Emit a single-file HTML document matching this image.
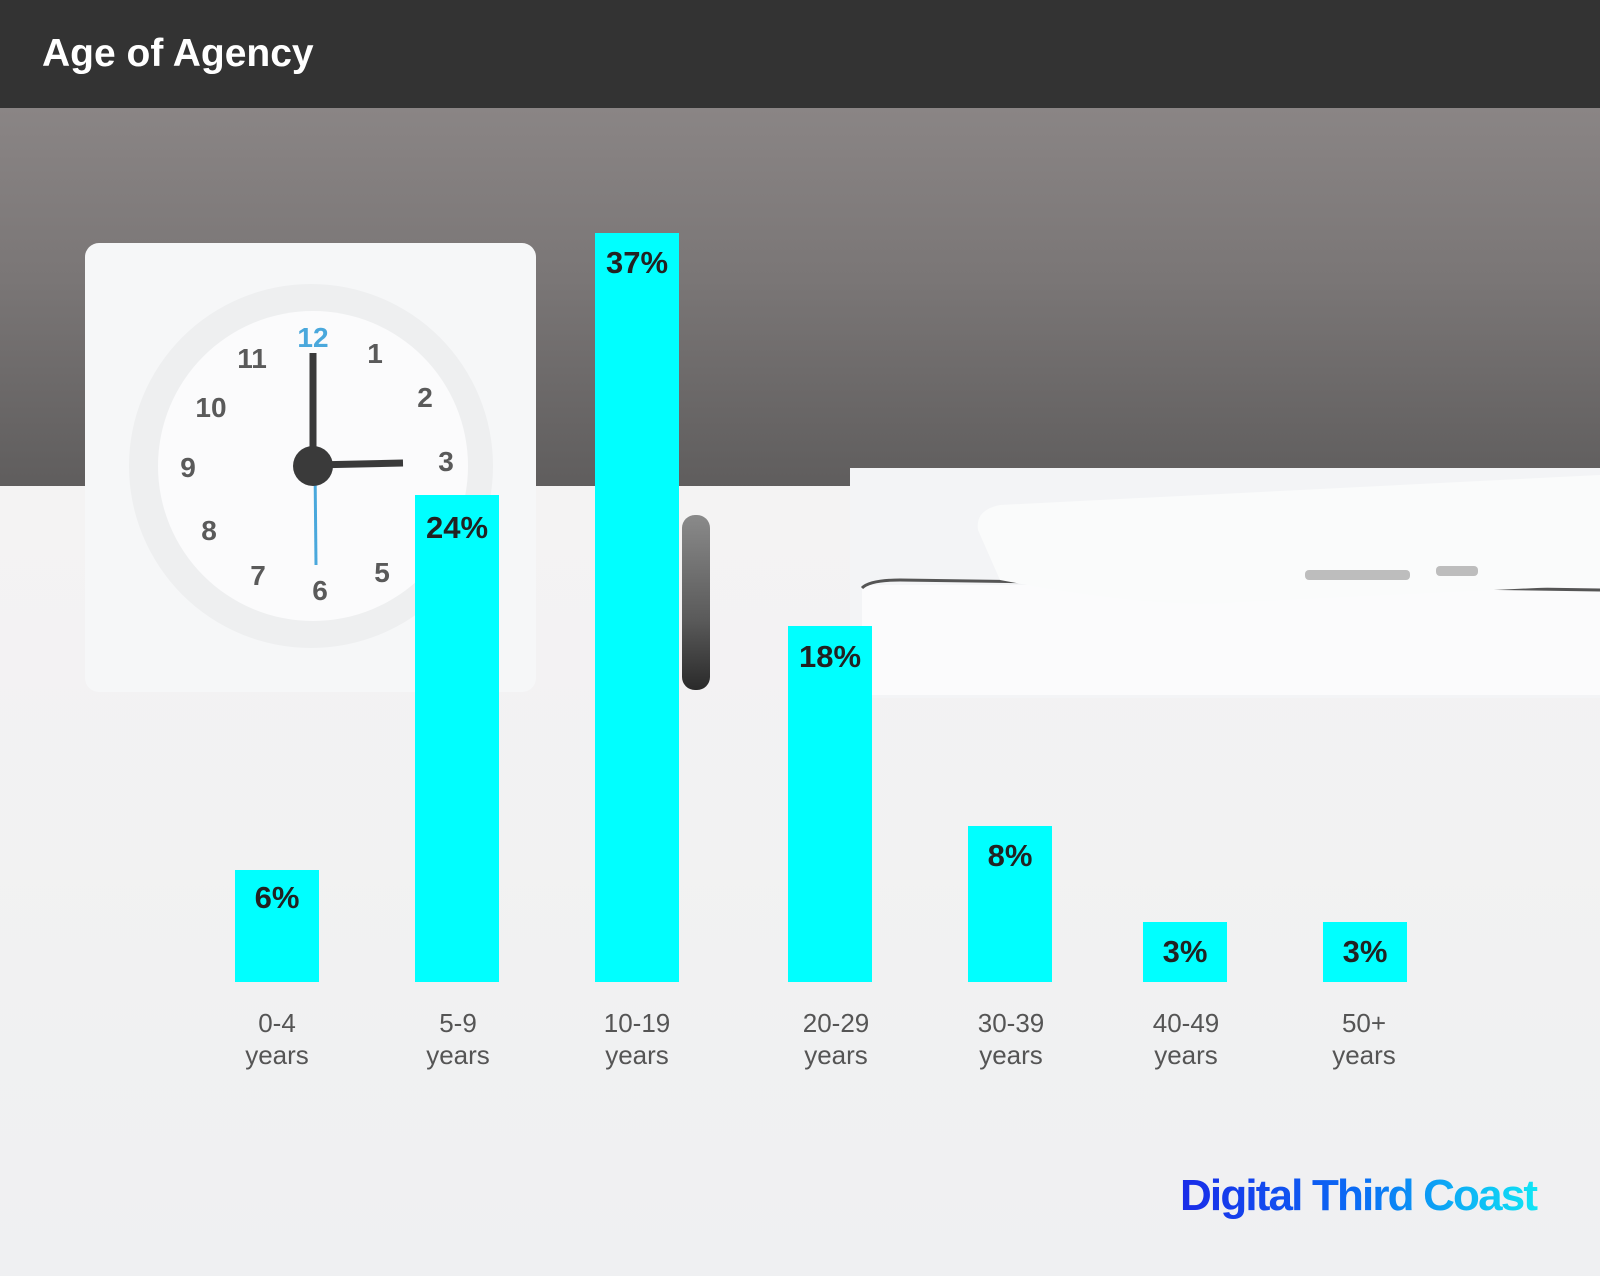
<!DOCTYPE html>
<html><head><style>
html,body{margin:0;padding:0;width:1600px;height:1276px;overflow:hidden;}
body{position:relative;font-family:"Liberation Sans",sans-serif;}
</style></head><body>
<svg width="1600" height="1276" viewBox="0 0 1600 1276" xmlns="http://www.w3.org/2000/svg" style="position:absolute;left:0;top:0">
<defs>
<linearGradient id="wall" x1="0" y1="0" x2="0" y2="1">
<stop offset="0" stop-color="#8a8585"/><stop offset="0.45" stop-color="#7a7676"/><stop offset="1" stop-color="#5f5d5d"/>
</linearGradient>
<linearGradient id="desk" x1="0" y1="0" x2="0" y2="1">
<stop offset="0" stop-color="#f4f3f3"/><stop offset="1" stop-color="#eff0f2"/>
</linearGradient>
<linearGradient id="logo" x1="0" y1="0" x2="1" y2="0">
<stop offset="0" stop-color="#1a2be8"/><stop offset="0.5" stop-color="#0a6cf5"/><stop offset="1" stop-color="#10e6f5"/>
</linearGradient>
<linearGradient id="pen" x1="0" y1="0" x2="0" y2="1">
<stop offset="0" stop-color="#8a8a8a"/><stop offset="0.6" stop-color="#5a5a5a"/><stop offset="1" stop-color="#2a2a2a"/>
</linearGradient>
</defs>
<rect x="0" y="108" width="1600" height="380" fill="url(#wall)"/>
<rect x="0" y="486" width="1600" height="790" fill="url(#desk)"/>
<!-- clock -->
<rect x="85" y="243" width="451" height="449" rx="14" fill="#f6f7f8"/>
<circle cx="311" cy="466" r="182" fill="#eeeff0"/>
<circle cx="313" cy="466" r="155" fill="#fbfbfc"/>
<g font-family="Liberation Sans" font-weight="bold" font-size="28" fill="#5a5a5a" text-anchor="middle">
<text x="313" y="347" fill="#4aa8dc">12</text><text x="375" y="363">1</text><text x="425" y="407">2</text>
<text x="446" y="471">3</text><text x="382" y="582">5</text><text x="320" y="600">6</text>
<text x="258" y="585">7</text><text x="209" y="540">8</text><text x="188" y="477">9</text>
<text x="211" y="417">10</text><text x="252" y="368">11</text>
</g>
<line x1="313" y1="465" x2="313" y2="353" stroke="#3a3a3a" stroke-width="7"/>
<line x1="313" y1="465" x2="403" y2="463" stroke="#3a3a3a" stroke-width="7"/>
<line x1="315" y1="465" x2="316" y2="565" stroke="#4aa8dc" stroke-width="3"/>
<circle cx="313" cy="466" r="20" fill="#3a3a3a"/>
<!-- pen -->
<rect x="682" y="515" width="28" height="175" rx="13" fill="url(#pen)"/>
<!-- notebook -->
<rect x="850" y="468" width="750" height="230" fill="#f3f4f6"/>
<rect x="862" y="585" width="738" height="110" fill="#fbfbfc"/>
<path d="M862 588 Q870 580 900 580 L1600 590" stroke="#555" stroke-width="3" fill="none"/>
<path d="M978 530 Q975 510 1000 505 L1600 475 L1600 585 L1240 602 Q1160 610 1000 580 Z" fill="#fafbfb"/>
<rect x="1305" y="570" width="105" height="10" rx="4" fill="#bdbdbd"/>
<rect x="1436" y="566" width="42" height="10" rx="4" fill="#bdbdbd"/>
<!-- header -->
<rect x="0" y="0" width="1600" height="108" fill="#333333"/>
<text x="42" y="66" font-family="Liberation Sans" font-weight="bold" font-size="39" fill="#fff">Age of Agency</text>
<!-- bars -->
<g fill="#00ffff">
<rect x="235" y="870" width="84" height="112"/>
<rect x="415" y="495" width="84" height="487"/>
<rect x="595" y="233" width="84" height="749"/>
<rect x="788" y="626" width="84" height="356"/>
<rect x="968" y="826" width="84" height="156"/>
<rect x="1143" y="922" width="84" height="60"/>
<rect x="1323" y="922" width="84" height="60"/>
</g>
<g font-family="Liberation Sans" font-weight="bold" font-size="31" fill="#222" text-anchor="middle">
<text x="277" y="908">6%</text>
<text x="457" y="538">24%</text>
<text x="637" y="273">37%</text>
<text x="830" y="667">18%</text>
<text x="1010" y="866">8%</text>
<text x="1185" y="962">3%</text>
<text x="1365" y="962">3%</text>
</g>
<g font-family="Liberation Sans" font-size="26" fill="#555" text-anchor="middle">
<text x="277" y="1032">0-4</text><text x="277" y="1064">years</text>
<text x="458" y="1032">5-9</text><text x="458" y="1064">years</text>
<text x="637" y="1032">10-19</text><text x="637" y="1064">years</text>
<text x="836" y="1032">20-29</text><text x="836" y="1064">years</text>
<text x="1011" y="1032">30-39</text><text x="1011" y="1064">years</text>
<text x="1186" y="1032">40-49</text><text x="1186" y="1064">years</text>
<text x="1364" y="1032">50+</text><text x="1364" y="1064">years</text>
</g>
<text x="1180" y="1210" font-family="Liberation Sans" font-weight="bold" font-size="44" letter-spacing="-2" fill="url(#logo)" textLength="356">Digital Third Coast</text>
</svg>
</body></html>
